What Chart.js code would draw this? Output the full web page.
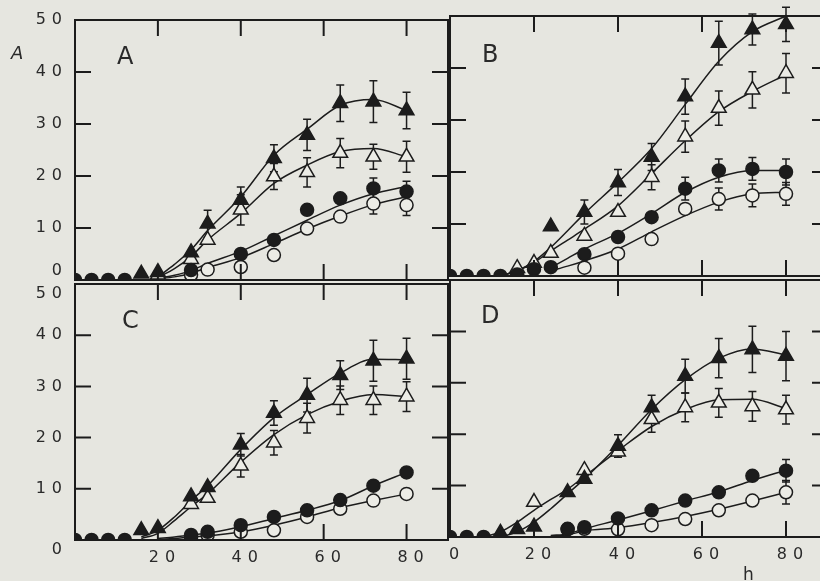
<!DOCTYPE html>
<html>
<head>
<meta charset="utf-8">
<script src="https://cdn.jsdelivr.net/npm/chart.js@4.4.1/dist/chart.umd.min.js"></script>
<style>
  html, body { margin: 0; padding: 0; background: #e6e6e0; overflow: hidden; }
  #wrap { position: relative; width: 820px; height: 581px; overflow: hidden; }
  canvas { position: absolute; }
  .lbl { position: absolute; font-family: "DejaVu Sans", sans-serif; color: #2a2a2a; line-height: 1; white-space: nowrap; }
  .panel { font-size: 24px; }
</style>
</head>
<body>
<div id="wrap">
  <canvas id="chartA" width="460" height="300" style="left:0;top:0"></canvas>
  <canvas id="chartB" width="400" height="300" style="left:440px;top:0"></canvas>
  <canvas id="chartC" width="460" height="311" style="left:0;top:270px"></canvas>
  <canvas id="chartD" width="400" height="311" style="left:440px;top:270px"></canvas>
  <div class="lbl panel" style="left:117px;top:44px">A</div>
  <div class="lbl panel" style="left:482px;top:42px">B</div>
  <div class="lbl panel" style="left:122px;top:308px">C</div>
  <div class="lbl panel" style="left:481px;top:303px">D</div>
  <div class="lbl" style="left:11px;top:44px;font-size:18px;font-style:italic">A</div>
  <div class="lbl" style="left:743px;top:566px;font-size:17px">h</div>
</div>
<script>
const hours = [0, 4, 8, 12, 16, 20, 24, 28, 32, 40, 48, 56, 64, 72, 80];
const yTickValues = [0, 10, 20, 30, 40, 50];
const xTickValues = [0, 20, 40, 60, 80];
const xTickValuesC = [20, 40, 60, 80];
const innerX = [20, 40, 60, 80];
const innerY = [10, 20, 30, 40];

// A
const aSolidTri    = [null, null, null, null, 1.2, 1.5, null, 5.3, 10.8, 15.4, 23.4, 27.9, 34, 34.3, 32.6];
const aSolidTriErr = [null, null, null, null, null, null, null, null, 2.6, 2.5, 2.6, 3, 3.5, 4, 3.5];
const aOpenTri     = [null, null, null, null, null, 1, null, 4, 7.7, 13.5, 19.9, 20.7, 24.4, 23.7, 23.7];
const aOpenTriErr  = [null, null, null, null, null, null, null, null, null, 2.9, 2.5, 2.8, 2.8, 2.4, 3];
const aSolidDot    = [0, 0, 0, 0, null, null, null, 1.9, null, 5, 7.7, 13.5, 15.7, 17.6, 17];
const aSolidDotErr = [null, null, null, null, null, null, null, null, null, null, null, null, null, 2, 2];
const aOpenDot     = [null, null, null, null, null, null, null, 1.0, 2.0, 2.5, 4.8, 9.9, 12.2, 14.7, 14.4];
const aOpenDotErr  = [null, null, null, null, null, null, null, null, null, null, null, null, null, 2, 2];
const aFitSolidTri = [null, null, null, null, null, 0.6, 3, 5.8, 9.5, 16, 24, 29, 33.6, 34.7, 32.6];
const aFitOpenTri  = [null, null, null, null, null, 0.5, 2.2, 4.5, 7.7, 12.8, 18.6, 22.1, 24.7, 25.3, 23.7];
const aFitSolidDot = [null, null, null, null, null, 0.3, 0.9, 1.8, 3.2, 5.5, 8.5, 11.5, 14.4, 16.6, 18];
const aFitOpenDot  = [null, null, null, null, null, 0.2, 0.6, 1.3, 2.4, 4.3, 7, 9.8, 12.3, 14.5, 16];

// B
const bSolidTri    = [null, null, null, null, null, null, 9.5, null, 12.3, 18, 22.9, 34.5, 44.8, 47.4, 48.4];
const bSolidTriErr = [null, null, null, null, null, null, null, null, 2.3, 2.5, 2.6, 3.4, 4.2, 3, 3.3];
const bOpenTri     = [null, null, null, null, 1.5, 2.5, 4.4, null, 7.7, 12.3, 19, 26.8, 32.3, 35.8, 39];
const bOpenTriErr  = [null, null, null, null, null, null, null, null, null, null, 2.4, 3, 3.3, 3.5, 3.8];
const bSolidDot    = [0, 0, 0, 0, 0.3, 1.3, 1.7, null, 4.2, 7.5, 11.3, 16.8, 20.3, 20.6, 20];
const bSolidDotErr = [null, null, null, null, null, null, null, null, null, null, null, 2.2, 2.2, 2.2, 2.5];
const bOpenDot     = [null, null, null, null, null, null, null, null, 1.6, 4.3, 7.1, 12.9, 14.8, 15.5, 15.8];
const bOpenDotErr  = [null, null, null, null, null, null, null, null, null, null, null, null, 2.1, 2.2, 2.2];
const bFitSolidTri = [null, null, null, 0, 1, 2.8, 5.5, 8.7, 12, 18, 24.5, 33, 41.3, 47, 50];
const bFitOpenTri  = [null, null, null, 0, 1, 2.6, 4.8, 6.9, 9, 13.5, 19.7, 26, 31.6, 35.5, 38.7];
const bFitSolidDot = [null, null, null, null, null, null, 1.6, 3.4, 5.2, 8.2, 12, 16.1, 19, 20.3, 20.3];
const bFitOpenDot  = [null, null, null, null, null, null, 1.0, 1.9, 2.9, 5.2, 8.5, 11.6, 14.2, 15.8, 16.1];

// C
const cSolidTri    = [null, null, null, null, 1.9, 2.3, null, 8.5, 10.3, 18.6, 24.8, 28.3, 32.2, 35, 35.4];
const cSolidTriErr = [null, null, null, null, null, null, null, null, null, 2.2, 2.4, 3.3, 2.8, 4, 4];
const cOpenTri     = [null, null, null, null, null, null, null, 7, 8.2, 14.5, 19, 23.8, 27.3, 27.3, 28];
const cOpenTriErr  = [null, null, null, null, null, null, null, null, null, 2.2, 2.4, 2.9, 2.8, 2.8, 2.9];
const cSolidDot    = [0, 0, 0, 0, null, null, null, 1, 1.6, 2.9, 4.5, 5.8, 7.8, 10.6, 13.2];
const cOpenDot     = [null, null, null, null, null, null, null, 0.6, 1, 1.6, 1.9, 4.5, 6.1, 7.7, 9];
const cFitSolidTri = [null, null, null, null, 0.6, 1.9, 4.5, 7.7, 10.6, 17.7, 23.9, 28.4, 32.6, 35.3, 35.2];
const cFitOpenTri  = [null, null, null, null, 0.3, 1.3, 3.8, 6.5, 9, 15.2, 20.6, 24.5, 27.1, 28.4, 28];
const cFitSolidDot = [null, null, null, null, null, 0.3, 0.6, 1, 1.3, 2.6, 4.2, 5.8, 7.7, 10.6, 13.2];
const cFitOpenDot  = [null, null, null, null, null, 0.1, 0.3, 0.6, 0.8, 1.6, 2.9, 4.5, 6.3, 7.7, 9];

// D
const dSolidTri    = [null, null, null, 0.8, 1.5, 2, null, 8.7, 11.3, 17.7, 25.2, 31.3, 34.8, 36.5, 35.2];
const dSolidTriErr = [null, null, null, null, null, null, null, null, null, 2.2, 2.4, 3.3, 3.8, 4.5, 4.8];
const dOpenTri     = [null, null, null, null, null, 6.8, null, null, 13, 16.6, 22.9, 25.2, 26.1, 25.4, 24.8];
const dOpenTriErr  = [null, null, null, null, null, null, null, null, null, null, 2.5, 2.8, 2.8, 2.9, 2.8];
const dSolidDot    = [0, 0, 0, null, null, null, null, 1.6, 1.9, 3.6, 5.2, 7.1, 8.7, 11.9, 12.9];
const dSolidDotErr = [null, null, null, null, null, null, null, null, null, null, null, null, null, null, 2.2];
const dOpenDot     = [null, null, null, null, null, null, null, 1.5, 1.6, 1.5, 2.3, 3.5, 5.2, 7.1, 8.7];
const dOpenDotErr  = [null, null, null, null, null, null, null, null, null, null, null, null, null, null, 2.3];
const dFitSolidTri = [null, null, null, 0, 1, 2.9, 5.5, 8.4, 11.3, 17.8, 24.8, 30.6, 34.8, 36.6, 35.4];
const dFitOpenTri  = [null, null, 0, 1, 2.9, 5.2, 7.3, 9.3, 11.8, 16.8, 21.5, 24.8, 26.7, 26.8, 25];
const dFitSolidDot = [null, null, null, null, null, null, 0.3, 0.6, 1.6, 3.3, 5.1, 7, 8.8, 11, 13];
const dFitOpenDot  = [null, null, null, null, null, null, 0.2, 0.4, 1.2, 1.8, 2.8, 4, 5.4, 7, 8.7];

const INK = '#1c1c1c';
const PAPER = '#ecece6';
const TICK = 16;
const CLIP = { left: 0, top: 12, right: 12, bottom: 0 };

function points(vals, errs) {
  return hours.map((h, i) => ({ x: h, y: vals[i], e: errs ? errs[i] : null }))
    .filter(p => p.y !== null);
}

function marks(vals, errs, style, filled) {
  return {
    data: points(vals, errs),
    showLine: false,
    pointStyle: style,
    pointRadius: style === 'triangle' ? 8.5 : 6.5,
    pointBackgroundColor: filled ? INK : PAPER,
    pointBorderColor: INK,
    pointBorderWidth: 1.5,
    clip: CLIP
  };
}

function fit(vals) {
  return {
    data: points(vals),
    borderColor: INK,
    borderWidth: 1.5,
    pointRadius: 0,
    cubicInterpolationMode: 'monotone',
    clip: CLIP
  };
}

// no extra room for labels that run past the plot edge
function noLabelPadding(s) {
  s.paddingTop = 0; s.paddingBottom = 0; s.paddingLeft = 0; s.paddingRight = 0;
}

// error bars under the markers
const errorBars = {
  id: 'errorBars',
  beforeDatasetsDraw(chart) {
    const { ctx, scales: { y } } = chart;
    ctx.save();
    ctx.strokeStyle = INK;
    ctx.lineWidth = 1.5;
    chart.data.datasets.forEach((ds, di) => {
      const meta = chart.getDatasetMeta(di);
      ds.data.forEach((p, i) => {
        if (!p.e) return;
        const px = meta.data[i].x;
        const top = y.getPixelForValue(p.y + p.e);
        const bot = y.getPixelForValue(p.y - p.e);
        ctx.beginPath();
        ctx.moveTo(px, top); ctx.lineTo(px, bot);
        ctx.moveTo(px - 4, top); ctx.lineTo(px + 4, top);
        ctx.moveTo(px - 4, bot); ctx.lineTo(px + 4, bot);
        ctx.stroke();
      });
    });
    ctx.restore();
  }
};

// box round the plot with ticks pointing inwards
const frame = {
  id: 'frame',
  beforeDraw(chart) {
    chart.ctx.letterSpacing = '6px';
  },
  afterDatasetsDraw(chart) {
    const { ctx, chartArea: a, scales: { x, y } } = chart;
    ctx.save();
    ctx.strokeStyle = INK;
    ctx.lineWidth = 2;
    ctx.strokeRect(a.left, a.top, a.right - a.left, a.bottom - a.top);
    ctx.beginPath();
    innerX.forEach(v => {
      const px = x.getPixelForValue(v);
      ctx.moveTo(px, a.top); ctx.lineTo(px, a.top + TICK);
      ctx.moveTo(px, a.bottom); ctx.lineTo(px, a.bottom - TICK);
    });
    innerY.forEach(v => {
      const py = y.getPixelForValue(v);
      ctx.moveTo(a.left, py); ctx.lineTo(a.left + TICK, py);
      ctx.moveTo(a.right, py); ctx.lineTo(a.right - TICK, py);
    });
    ctx.stroke();
    ctx.restore();
  }
};

function makePanel(id, sets, box) {
  const font = { family: 'DejaVu Sans', size: 16 };
  new Chart(document.getElementById(id), {
    type: 'line',
    data: {
      datasets: [
        marks(sets.solidTri, sets.solidTriErr, 'triangle', true),
        marks(sets.solidDot, sets.solidDotErr, 'circle', true),
        marks(sets.openTri, sets.openTriErr, 'triangle', false),
        marks(sets.openDot, sets.openDotErr, 'circle', false),
        fit(sets.fitSolidTri),
        fit(sets.fitOpenTri),
        fit(sets.fitSolidDot),
        fit(sets.fitOpenDot)
      ]
    },
    options: {
      responsive: false,
      animation: false,
      devicePixelRatio: 1,
      layout: { padding: { top: box.top, right: box.right, left: 0, bottom: 0 } },
      plugins: { legend: { display: false }, tooltip: { enabled: false } },
      scales: {
        x: {
          type: 'linear', min: 0, max: 90,
          afterBuildTicks: s => { s.ticks = box.xTicks.map(v => ({ value: v })); },
          afterFit: s => { s.height = box.xHeight; noLabelPadding(s); },
          grid: { display: false, drawTicks: false },
          border: { display: false },
          ticks: { display: box.showX, padding: 8, labelOffset: 7, font, color: '#2a2a2a', maxRotation: 0, autoSkip: false }
        },
        y: {
          type: 'linear', min: 0, max: 50,
          afterBuildTicks: s => { s.ticks = yTickValues.map(v => ({ value: v })); },
          afterFit: s => { s.width = box.yWidth; noLabelPadding(s); },
          grid: { display: false, drawTicks: false },
          border: { display: false },
          ticks: {
            display: box.showY, padding: 7, font, color: '#2a2a2a', autoSkip: false,
            // the 0 / 50 labels where the two panels meet sit a line apart
            callback: v => box.nudgeUp.includes(v) ? [String(v), ''] :
                           box.nudgeDown.includes(v) ? ['', String(v)] : String(v)
          }
        }
      }
    },
    plugins: [errorBars, frame]
  });
}

makePanel('chartA', {
  solidTri: aSolidTri, solidTriErr: aSolidTriErr, openTri: aOpenTri, openTriErr: aOpenTriErr,
  solidDot: aSolidDot, solidDotErr: aSolidDotErr, openDot: aOpenDot, openDotErr: aOpenDotErr,
  fitSolidTri: aFitSolidTri, fitOpenTri: aFitOpenTri, fitSolidDot: aFitSolidDot, fitOpenDot: aFitOpenDot
}, { top: 20, right: 12, xHeight: 20, yWidth: 75, showX: false, showY: true, xTicks: xTickValues, nudgeUp: [0], nudgeDown: [] });

makePanel('chartB', {
  solidTri: bSolidTri, solidTriErr: bSolidTriErr, openTri: bOpenTri, openTriErr: bOpenTriErr,
  solidDot: bSolidDot, solidDotErr: bSolidDotErr, openDot: bOpenDot, openDotErr: bOpenDotErr,
  fitSolidTri: bFitSolidTri, fitOpenTri: bFitOpenTri, fitSolidDot: bFitSolidDot, fitOpenDot: bFitOpenDot
}, { top: 16, right: 12, xHeight: 24, yWidth: 9, showX: false, showY: false, xTicks: xTickValues, nudgeUp: [], nudgeDown: [] });

makePanel('chartC', {
  solidTri: cSolidTri, solidTriErr: cSolidTriErr, openTri: cOpenTri, openTriErr: cOpenTriErr,
  solidDot: cSolidDot, solidDotErr: null, openDot: cOpenDot, openDotErr: null,
  fitSolidTri: cFitSolidTri, fitOpenTri: cFitOpenTri, fitSolidDot: cFitSolidDot, fitOpenDot: cFitOpenDot
}, { top: 14, right: 12, xHeight: 41, yWidth: 75, showX: true, showY: true, xTicks: xTickValuesC, nudgeUp: [], nudgeDown: [0, 50] });

makePanel('chartD', {
  solidTri: dSolidTri, solidTriErr: dSolidTriErr, openTri: dOpenTri, openTriErr: dOpenTriErr,
  solidDot: dSolidDot, solidDotErr: dSolidDotErr, openDot: dOpenDot, openDotErr: dOpenDotErr,
  fitSolidTri: dFitSolidTri, fitOpenTri: dFitOpenTri, fitSolidDot: dFitSolidDot, fitOpenDot: dFitOpenDot
}, { top: 8, right: 12, xHeight: 44, yWidth: 9, showX: true, showY: false, xTicks: xTickValues, nudgeUp: [], nudgeDown: [] });
</script>
</body>
</html>
